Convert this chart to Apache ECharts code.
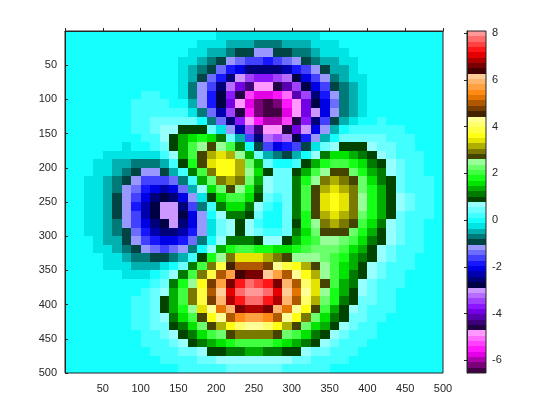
<!DOCTYPE html>
<html>
<head>
<meta charset="utf-8">
<style>html,body{margin:0;padding:0;background:#fff}#c{width:560px;height:420px}</style>
<script src="https://cdn.jsdelivr.net/npm/echarts@6/dist/echarts.min.js"></script>
</head>
<body>
<div id="c"></div>
<script>
// Surface values, one row per 12.5 image units, top row first.
const surfaceRows = [
[0,0,0,0,0,0,0,0,0,0,0,-.01,-.02,-.05,-.08,-.13,-.18,-.24,-.28,-.32,-.35,-.35,-.33,-.30,-.26,-.21,-.16,-.12,-.08,-.05,-.03,-.02,-.01,0,0,0,0,0,0,0],
[0,0,0,0,0,0,0,0,.01,.01,0,-.01,-.05,-.09,-.16,-.24,-.33,-.43,-.52,-.59,-.63,-.63,-.60,-.54,-.46,-.37,-.29,-.21,-.15,-.10,-.06,-.04,-.02,-.01,-.01,0,0,0,0,0],
[0,0,0,0,0,0,.01,.01,.01,.01,0,-.03,-.08,-.16,-.27,-.41,-.57,-.73,-.88,-1.0,-1.06,-1.07,-1.01,-.91,-.78,-.63,-.48,-.35,-.24,-.16,-.10,-.06,-.03,-.02,-.01,0,0,0,0,0],
[0,0,0,0,.01,.01,.02,.02,.02,.01,-.01,-.06,-.15,-.28,-.46,-.69,-.95,-1.21,-1.45,-1.64,-1.74,-1.75,-1.66,-1.49,-1.27,-1.02,-.78,-.57,-.39,-.25,-.16,-.09,-.05,-.03,-.01,0,0,0,0,0],
[0,0,0,.01,.01,.02,.02,.03,.03,.02,-.02,-.09,-.22,-.42,-.69,-1.02,-1.41,-1.81,-2.17,-2.45,-2.60,-2.62,-2.48,-2.23,-1.90,-1.53,-1.17,-.85,-.58,-.37,-.23,-.13,-.07,-.04,-.02,-.01,0,0,0,0],
[0,0,0,.01,.01,.02,.03,.04,.04,.03,-.01,-.11,-.28,-.55,-.92,-1.39,-1.93,-2.49,-3.0,-3.40,-3.63,-3.65,-3.47,-3.13,-2.66,-2.14,-1.63,-1.18,-.80,-.52,-.31,-.18,-.09,-.05,-.02,-.01,0,0,0,0],
[0,0,.01,.01,.02,.03,.04,.06,.07,.06,.01,-.11,-.32,-.65,-1.13,-1.74,-2.44,-3.18,-3.87,-4.41,-4.73,-4.78,-4.56,-4.10,-3.49,-2.81,-2.14,-1.53,-1.04,-.66,-.39,-.22,-.11,-.05,-.02,-.01,0,0,0,0],
[0,0,.01,.01,.02,.04,.06,.08,.10,.10,.06,-.05,-.28,-.65,-1.20,-1.92,-2.78,-3.69,-4.55,-5.24,-5.66,-5.76,-5.51,-4.98,-4.24,-3.40,-2.58,-1.83,-1.23,-.77,-.45,-.24,-.12,-.05,-.02,0,0,0,0,0],
[0,0,.01,.01,.02,.04,.07,.10,.14,.17,.16,.08,-.13,-.50,-1.07,-1.86,-2.81,-3.86,-4.87,-5.71,-6.25,-6.41,-6.18,-5.60,-4.77,-3.81,-2.87,-2.02,-1.32,-.81,-.45,-.23,-.10,-.03,0,.01,.01,.01,0,0],
[0,0,0,.01,.02,.04,.07,.12,.18,.24,.29,.27,.14,-.16,-.67,-1.43,-2.40,-3.51,-4.63,-5.59,-6.26,-6.51,-6.33,-5.77,-4.91,-3.91,-2.90,-2.0,-1.27,-.73,-.37,-.15,-.04,.01,.03,.03,.02,.01,.01,0],
[0,0,0,0,.01,.03,.07,.12,.21,.32,.44,.53,.53,.38,.02,-.61,-1.50,-2.59,-3.74,-4.79,-5.57,-5.95,-5.88,-5.39,-4.58,-3.60,-2.61,-1.72,-1.01,-.50,-.18,-.01,.07,.09,.08,.06,.04,.02,.01,.01],
[0,-.01,-.01,-.01,-.01,0,.03,.09,.20,.35,.55,.76,.94,1.0,.88,.47,-.23,-1.20,-2.31,-3.39,-4.28,-4.79,-4.86,-4.50,-3.81,-2.92,-2.01,-1.19,-.56,-.13,.11,.22,.23,.20,.15,.10,.06,.04,.02,.01],
[-.01,-.01,-.02,-.03,-.05,-.05,-.04,.01,.12,.30,.57,.91,1.28,1.60,1.76,1.65,1.20,.43,-.58,-1.65,-2.61,-3.26,-3.48,-3.27,-2.72,-1.96,-1.17,-.47,.05,.37,.51,.51,.44,.34,.24,.16,.09,.05,.03,.01],
[-.01,-.03,-.04,-.07,-.10,-.13,-.15,-.14,-.06,.12,.44,.88,1.42,1.98,2.43,2.64,2.49,1.96,1.09,.06,-.94,-1.68,-2.03,-1.97,-1.54,-.91,-.22,.36,.76,.95,.96,.85,.68,.50,.34,.22,.13,.07,.04,.02],
[-.02,-.04,-.07,-.11,-.17,-.24,-.31,-.36,-.33,-.19,.12,.62,1.28,2.04,2.75,3.25,3.39,3.09,2.38,1.42,.42,-.38,-.82,-.83,-.49,.08,.68,1.18,1.47,1.55,1.44,1.21,.94,.68,.46,.29,.17,.10,.05,.03],
[-.03,-.05,-.09,-.16,-.25,-.37,-.51,-.63,-.70,-.63,-.38,.11,.84,1.72,2.63,3.36,3.74,3.65,3.09,2.22,1.25,.45,-.01,-.04,.30,.86,1.45,1.90,2.13,2.12,1.91,1.57,1.21,.86,.57,.36,.22,.12,.06,.03],
[-.03,-.07,-.12,-.21,-.34,-.51,-.72,-.94,-1.11,-1.16,-1.0,-.57,.15,1.09,2.12,3.01,3.57,3.65,3.23,2.45,1.54,.78,.37,.38,.78,1.40,2.03,2.49,2.69,2.61,2.32,1.90,1.45,1.03,.68,.43,.26,.14,.07,.04],
[-.04,-.08,-.15,-.26,-.42,-.65,-.93,-1.24,-1.53,-1.70,-1.65,-1.32,-.66,.29,1.37,2.36,3.05,3.25,2.96,2.28,1.45,.76,.42,.53,1.03,1.73,2.43,2.93,3.12,3.01,2.66,2.17,1.65,1.17,.78,.49,.29,.16,.09,.04],
[-.05,-.09,-.17,-.30,-.49,-.76,-1.11,-1.50,-1.88,-2.17,-2.25,-2.02,-1.43,-.53,.56,1.60,2.36,2.67,2.47,1.89,1.15,.56,.32,.53,1.13,1.92,2.68,3.22,3.42,3.29,2.90,2.36,1.79,1.27,.84,.53,.31,.17,.09,.05],
[-.05,-.10,-.18,-.33,-.54,-.83,-1.23,-1.68,-2.14,-2.52,-2.69,-2.57,-2.07,-1.22,-.17,.88,1.69,2.06,1.95,1.47,.84,.34,.19,.48,1.15,2.0,2.81,3.37,3.57,3.43,3.03,2.46,1.87,1.33,.88,.55,.33,.18,.10,.05],
[-.05,-.10,-.19,-.33,-.55,-.86,-1.28,-1.76,-2.26,-2.70,-2.95,-2.90,-2.49,-1.72,-.72,.30,1.11,1.52,1.48,1.09,.55,.15,.08,.43,1.13,2.0,2.81,3.36,3.57,3.42,3.02,2.45,1.86,1.32,.87,.55,.33,.18,.10,.05],
[-.05,-.10,-.18,-.33,-.54,-.85,-1.26,-1.74,-2.25,-2.71,-3.0,-3.01,-2.67,-2.0,-1.08,-.13,.65,1.07,1.09,.78,.34,.01,0,.37,1.07,1.91,2.69,3.22,3.41,3.27,2.88,2.34,1.77,1.26,.83,.52,.31,.17,.09,.04],
[-.05,-.09,-.17,-.30,-.50,-.79,-1.17,-1.63,-2.12,-2.56,-2.86,-2.90,-2.63,-2.04,-1.23,-.36,.36,.77,.83,.59,.23,-.02,0,.36,1.0,1.77,2.48,2.96,3.13,2.99,2.63,2.14,1.62,1.15,.76,.48,.28,.15,.08,.04],
[-.04,-.08,-.15,-.27,-.44,-.69,-1.03,-1.44,-1.88,-2.28,-2.54,-2.59,-2.36,-1.84,-1.12,-.34,.32,.72,.81,.64,.36,.16,.18,.48,1.03,1.67,2.26,2.65,2.78,2.64,2.32,1.88,1.42,1.0,.67,.42,.25,.13,.07,.04],
[-.03,-.07,-.12,-.22,-.37,-.58,-.86,-1.20,-1.56,-1.88,-2.09,-2.10,-1.87,-1.39,-.72,0,.64,1.05,1.19,1.09,.88,.70,.68,.88,1.26,1.72,2.13,2.39,2.45,2.29,1.99,1.60,1.20,.85,.56,.35,.21,.11,.06,.03],
[-.03,-.05,-.10,-.18,-.29,-.45,-.67,-.93,-1.20,-1.42,-1.54,-1.48,-1.20,-.69,-.02,.71,1.37,1.84,2.06,2.05,1.89,1.70,1.59,1.62,1.78,1.99,2.18,2.26,2.19,1.99,1.69,1.34,.99,.70,.46,.29,.17,.09,.05,.02],
[-.02,-.04,-.07,-.13,-.22,-.33,-.49,-.66,-.82,-.94,-.94,-.77,-.40,.19,.93,1.73,2.47,3.05,3.38,3.46,3.34,3.12,2.89,2.70,2.58,2.50,2.41,2.27,2.05,1.77,1.45,1.12,.82,.56,.37,.23,.13,.07,.04,.02],
[-.02,-.03,-.05,-.09,-.15,-.22,-.31,-.41,-.47,-.47,-.35,-.06,.43,1.12,1.97,2.89,3.76,4.46,4.92,5.10,5.01,4.74,4.36,3.94,3.53,3.14,2.76,2.39,2.01,1.63,1.28,.95,.67,.46,.29,.18,.10,.06,.03,.01],
[-.01,-.02,-.03,-.06,-.09,-.13,-.17,-.19,-.18,-.08,.16,.56,1.16,1.97,2.93,3.96,4.95,5.78,6.35,6.61,6.56,6.24,5.72,5.09,4.42,3.75,3.12,2.54,2.01,1.54,1.15,.82,.56,.37,.23,.14,.08,.04,.02,.01],
[-.01,-.01,-.02,-.03,-.05,-.06,-.06,-.03,.05,.22,.53,1.02,1.70,2.58,3.61,4.72,5.79,6.71,7.36,7.68,7.64,7.28,6.67,5.89,5.03,4.17,3.35,2.62,1.99,1.46,1.04,.71,.47,.30,.18,.11,.06,.03,.02,.01],
[0,-.01,-.01,-.01,-.01,-.01,.02,.08,.19,.41,.76,1.28,1.98,2.88,3.92,5.03,6.12,7.05,7.73,8.07,8.05,7.68,7.03,6.18,5.23,4.27,3.37,2.57,1.90,1.35,.93,.62,.40,.25,.14,.08,.05,.02,.01,.01],
[0,0,0,0,0,.02,.06,.13,.26,.49,.83,1.34,2.01,2.85,3.83,4.87,5.89,6.77,7.41,7.75,7.73,7.39,6.76,5.93,5.0,4.05,3.16,2.37,1.72,1.20,.81,.52,.33,.20,.11,.06,.03,.02,.01,0],
[0,0,0,0,.01,.03,.07,.15,.27,.48,.79,1.24,1.83,2.57,3.41,4.32,5.21,5.98,6.54,6.84,6.84,6.53,5.97,5.23,4.40,3.54,2.74,2.04,1.46,1.0,.67,.42,.26,.15,.09,.05,.03,.01,.01,0],
[0,0,0,.01,.02,.03,.07,.14,.24,.42,.68,1.05,1.53,2.13,2.82,3.56,4.28,4.91,5.37,5.62,5.61,5.36,4.90,4.29,3.60,2.89,2.23,1.65,1.17,.80,.52,.33,.20,.12,.06,.03,.02,.01,0,0],
[0,0,0,.01,.01,.03,.06,.11,.20,.33,.53,.81,1.18,1.63,2.15,2.71,3.25,3.73,4.08,4.27,4.26,4.08,3.73,3.26,2.73,2.19,1.68,1.24,.88,.59,.39,.24,.14,.08,.05,.02,.01,.01,0,0],
[0,0,0,.01,.01,.02,.05,.08,.14,.24,.38,.59,.85,1.17,1.54,1.93,2.32,2.66,2.91,3.04,3.04,2.91,2.66,2.32,1.95,1.56,1.20,.88,.62,.42,.27,.17,.10,.06,.03,.02,.01,0,0,0],
[0,0,0,0,.01,.02,.03,.06,.10,.16,.26,.39,.57,.78,1.03,1.29,1.55,1.77,1.94,2.03,2.03,1.94,1.77,1.55,1.30,1.04,.79,.58,.41,.28,.18,.11,.07,.04,.02,.01,0,0,0,0],
[0,0,0,0,0,.01,.02,.04,.06,.10,.16,.24,.35,.48,.63,.79,.95,1.09,1.19,1.24,1.24,1.19,1.09,.95,.79,.64,.49,.36,.25,.17,.11,.07,.04,.02,.01,0,0,0,0,0],
[0,0,0,0,0,0,0,.02,.04,.06,.10,.15,.21,.29,.37,.47,.56,.64,.70,.74,.74,.70,.64,.56,.47,.38,.29,.21,.15,.10,.06,.04,.02,.01,0,0,0,0,0,0],
[0,0,0,0,0,0,0,0,.02,.03,.05,.08,.12,.16,.21,.26,.31,.36,.39,.41,.41,.39,.36,.31,.26,.21,.16,.12,.08,.05,.03,.02,.01,0,0,0,0,0,0,0]
];
const cellSize = 12.5;
const imageTicks = [50,100,150,200,250,300,350,400,450,500];
const colorTicks = [-6,-4,-2,0,2,4,6,8];
const colorMin = -6.55;
const colorMax = 8.1;
const levelsPerBand = 8;
// Bottom to top of the colour bar.
const bandHues = [[255,0,255],[128,0,255],[0,0,255],[0,255,255],[0,255,0],[255,255,0],[255,128,0],[255,0,0]];
const darkFactor = 0.16;
const lightMix = 0.68;

const levelCount = bandHues.length * levelsPerBand;
const levelHeight = (colorMax - colorMin) / levelCount;
function colorOf(v) {
  let lv = Math.floor((v - colorMin) / levelHeight);
  lv = Math.max(0, Math.min(levelCount - 1, lv));
  const hue = bandHues[Math.floor(lv / levelsPerBand)];
  const t = ((lv % levelsPerBand) + 0.5) / levelsPerBand;
  const rgb = hue.map(c => t < 0.5
    ? c * (darkFactor + (1 - darkFactor) * t / 0.5)
    : c + (255 - c) * lightMix * (t - 0.5) / 0.5);
  return 'rgb(' + rgb.map(Math.round).join(',') + ')';
}

const surfaceData = [];
surfaceRows.forEach((row, r) => row.forEach((v, c) => {
  surfaceData.push([(c + 0.5) * cellSize, (r + 0.5) * cellSize, v]);
}));
const barData = [];
for (let i = 0; i < levelCount; i++) barData.push([colorMin + i * levelHeight, colorMin + (i + 1) * levelHeight]);

function cellItem(params, api) {
  const h = cellSize / 2;
  const a = api.coord([api.value(0) - h, api.value(1) - h]);
  const b = api.coord([api.value(0) + h, api.value(1) + h]);
  const x0 = Math.round(a[0]), x1 = Math.round(b[0]), y0 = Math.round(a[1]), y1 = Math.round(b[1]);
  return {type: 'rect', shape: {x: x0, y: y0, width: x1 - x0, height: y1 - y0},
    style: {fill: colorOf(api.value(2))}};
}
function barItem(params, api) {
  const a = api.coord([0, api.value(1)]);
  const b = api.coord([1, api.value(0)]);
  const x0 = Math.round(a[0]), x1 = Math.round(b[0]), y0 = Math.round(a[1]), y1 = Math.round(b[1]);
  return {type: 'rect', shape: {x: x0, y: y0, width: x1 - x0, height: y1 - y0},
    style: {fill: colorOf((api.value(0) + api.value(1)) / 2)}};
}

const ink = '#262626';
const font = {color: ink, fontFamily: 'Liberation Sans', fontSize: 11};
const line = {show: true, lineStyle: {color: ink, width: 1}};
const tick = {show: true, inside: true, length: 3, lineStyle: {color: ink, width: 1}};
const skipZero = v => imageTicks.includes(v) ? String(v) : '';

const chart = echarts.init(document.getElementById('c'), null, {renderer: 'canvas'});
chart.setOption({
  animation: false,
  backgroundColor: '#fff',
  grid: [
    {left: 65, top: 31, width: 378, height: 342, show: true, borderColor: ink, borderWidth: 1, backgroundColor: 'transparent', z: 5},
    {left: 467, top: 31, width: 19, height: 342, show: true, borderColor: ink, borderWidth: 1, backgroundColor: 'transparent', z: 5}
  ],
  xAxis: [
    {type: 'value', gridIndex: 0, min: 0, max: 500, interval: 50, splitLine: {show: false}, axisLine: line, axisTick: tick,
      axisLabel: Object.assign({margin: 10, formatter: skipZero, showMinLabel: true, showMaxLabel: true}, font), z: 10},
    {type: 'value', gridIndex: 1, min: 0, max: 1, show: false}
  ],
  yAxis: [
    {type: 'value', gridIndex: 0, inverse: true, min: 0, max: 500, interval: 50, splitLine: {show: false}, axisLine: line, axisTick: tick,
      axisLabel: Object.assign({margin: 8, formatter: skipZero, showMinLabel: true, showMaxLabel: true}, font), z: 10},
    {type: 'value', gridIndex: 1, position: 'right', min: colorMin, max: colorMax, splitLine: {show: false}, axisLine: line,
      axisTick: Object.assign({customValues: colorTicks}, tick),
      axisLabel: Object.assign({margin: 6, customValues: colorTicks}, font), z: 10}
  ],
  series: [
    {type: 'custom', coordinateSystem: 'cartesian2d', xAxisIndex: 0, yAxisIndex: 0, data: surfaceData, renderItem: cellItem, clip: true, silent: true, encode: {x: 0, y: 1}},
    {type: 'custom', coordinateSystem: 'cartesian2d', xAxisIndex: 1, yAxisIndex: 1, data: barData, renderItem: barItem, clip: true, silent: true, encode: {y: [0, 1]}}
  ]
});
</script>
</body>
</html>
